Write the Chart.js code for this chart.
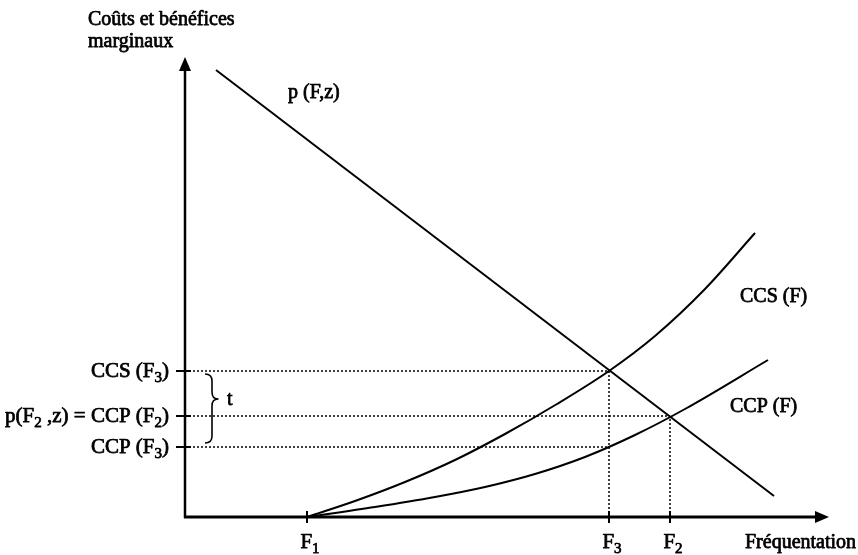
<!DOCTYPE html>
<html><head><meta charset="utf-8">
<script src="https://cdn.jsdelivr.net/npm/chart.js@4"></script>
<style>html,body{margin:0;padding:0;background:#fff;} canvas{display:block}</style>
</head><body>
<canvas id="c" width="858" height="555"></canvas>
<script>
// ---- data (arbitrary units: x = fréquentation, y = coûts/bénéfices) ----
const xTickValues = [122, 424, 485];
const xTickLabels = ['F_1', 'F_3', 'F_2'];
const yTickValues = [146, 101, 70];
const yTickLabels = ['CCS (F_3)', 'p(F_2 ,z) = CCP (F_2)', 'CCP (F_3)'];
const demandX = [31, 589];
const demandY = [447, 21];
const ccsX = [122, 170, 220, 270, 320, 372, 424, 470, 520, 570];
const ccsY = [0, 16, 35, 57, 83, 113, 146, 181, 228, 284];
const ccpX = [122, 190, 250, 300, 350, 400, 450, 500, 583];
const ccpY = [0, 10, 20, 30, 43, 60, 82, 108, 157];
const curveLabels = ['p (F,z)', 'CCS (F)', 'CCP (F)'];
const axisTitleY = ['Coûts et bénéfices', 'marginaux'];
const axisTitleX = 'Fréquentation';
const braceLabel = 't';

const zip = (xs, ys) => xs.map((x, i) => ({x, y: ys[i]}));
const F1 = xTickValues[0], F3 = xTickValues[1], F2 = xTickValues[2];
const ccsF3 = yTickValues[0], pF2 = yTickValues[1], ccpF3 = yTickValues[2];

const solid = {borderColor: '#000', borderWidth: 2, pointRadius: 0, fill: false};
const dotted = {borderColor: '#000', borderWidth: 1.5, borderDash: [2, 2], pointRadius: 0, fill: false};

const datasets = [
  {...dotted, data: [{x: 0, y: ccsF3}, {x: F3, y: ccsF3}]},
  {...dotted, data: [{x: 0, y: pF2}, {x: F2, y: pF2}]},
  {...dotted, data: [{x: 0, y: ccpF3}, {x: F3, y: ccpF3}]},
  {...dotted, data: [{x: F3, y: 0}, {x: F3, y: ccsF3}]},
  {...dotted, data: [{x: F2, y: 0}, {x: F2, y: pF2}]},
  {...solid, data: zip(demandX, demandY)},
  {...solid, data: zip(ccsX, ccsY), cubicInterpolationMode: 'monotone'},
  {...solid, data: zip(ccpX, ccpY), cubicInterpolationMode: 'monotone'}
];

const FONT = '"Liberation Serif", "Times New Roman", serif';
function richParts(s) {
  const parts = []; let buf = '';
  for (let i = 0; i < s.length; i++) {
    if (s[i] === '_') { if (buf) { parts.push({t: buf, sub: false}); buf = ''; } parts.push({t: s[i + 1], sub: true}); i++; }
    else buf += s[i];
  }
  if (buf) parts.push({t: buf, sub: false});
  return parts;
}
function drawRich(ctx, s, x, y, align, size) {
  size = size || 20;
  const parts = richParts(s);
  const fm = size + 'px ' + FONT, fs = Math.round(size * 0.72) + 'px ' + FONT;
  let w = 0;
  parts.forEach(p => { ctx.font = p.sub ? fs : fm; p.w = ctx.measureText(p.t).width; w += p.w; });
  let cx = align === 'right' ? x - w : align === 'center' ? x - w / 2 : x;
  ctx.textAlign = 'left'; ctx.textBaseline = 'alphabetic';
  ctx.lineWidth = 0.75; ctx.lineJoin = 'round';
  parts.forEach(p => {
    ctx.font = p.sub ? fs : fm;
    const yy = p.sub ? y + 5 : y;
    ctx.fillText(p.t, cx, yy);
    ctx.strokeText(p.t, cx, yy);
    cx += p.w;
  });
}

const decor = {
  id: 'decor',
  afterDatasetsDraw(chart) {
    const ctx = chart.ctx, xs = chart.scales.x, ys = chart.scales.y;
    const ox = xs.getPixelForValue(0), oy = ys.getPixelForValue(0);
    const xEnd = chart.chartArea.right, yEnd = chart.chartArea.top;
    ctx.save();
    ctx.fillStyle = '#000'; ctx.strokeStyle = '#000';
    // axes
    ctx.lineWidth = 2.5;
    ctx.beginPath(); ctx.moveTo(ox, oy + 1); ctx.lineTo(ox, yEnd + 10); ctx.stroke();
    ctx.lineWidth = 3;
    ctx.beginPath(); ctx.moveTo(ox - 1, oy); ctx.lineTo(xEnd - 10, oy); ctx.stroke();
    // arrowheads
    ctx.beginPath(); ctx.moveTo(ox, yEnd); ctx.lineTo(ox - 6, yEnd + 14); ctx.lineTo(ox + 6, yEnd + 14); ctx.closePath(); ctx.fill();
    ctx.beginPath(); ctx.moveTo(xEnd, oy); ctx.lineTo(xEnd - 14, oy - 6); ctx.lineTo(xEnd - 14, oy + 6); ctx.closePath(); ctx.fill();
    // ticks
    ctx.lineWidth = 2;
    yTickValues.forEach(v => { const py = ys.getPixelForValue(v); ctx.beginPath(); ctx.moveTo(ox - 9, py); ctx.lineTo(ox + 6, py); ctx.stroke(); });
    xTickValues.forEach(v => { const px = xs.getPixelForValue(v); ctx.beginPath(); ctx.moveTo(px, oy - 6); ctx.lineTo(px, oy + 6); ctx.stroke(); });
    // tick labels
    yTickValues.forEach((v, i) => drawRich(ctx, yTickLabels[i], ox - 16, ys.getPixelForValue(v) + 6, 'right', 21));
    xTickValues.forEach((v, i) => drawRich(ctx, xTickLabels[i], xs.getPixelForValue(v) + 3, oy + 31, 'center', 21));
    // axis titles
    drawRich(ctx, axisTitleY[0], ox - 97, 25, 'left');
    drawRich(ctx, axisTitleY[1], ox - 97, 47, 'left');
    drawRich(ctx, axisTitleX, xEnd - 84, oy + 31, 'left');
    // curve labels
    drawRich(ctx, curveLabels[0], xs.getPixelForValue(103), ys.getPixelForValue(419), 'left');
    drawRich(ctx, curveLabels[1], xs.getPixelForValue(555), ys.getPixelForValue(215), 'left');
    drawRich(ctx, curveLabels[2], xs.getPixelForValue(545), ys.getPixelForValue(105), 'left');
    // brace
    const yTop = ys.getPixelForValue(ccsF3) + 3, yBot = ys.getPixelForValue(ccpF3) - 4;
    const yMid = yTop + 25;
    const xL = ox + 20, xM = ox + 27, xT = ox + 33;
    ctx.lineWidth = 1.6;
    ctx.beginPath();
    ctx.moveTo(xL, yTop);
    ctx.quadraticCurveTo(xM, yTop, xM, yTop + 7);
    ctx.lineTo(xM, yMid - 7);
    ctx.quadraticCurveTo(xM, yMid, xT, yMid);
    ctx.quadraticCurveTo(xM, yMid, xM, yMid + 7);
    ctx.lineTo(xM, yBot - 7);
    ctx.quadraticCurveTo(xM, yBot, xL, yBot);
    ctx.stroke();
    drawRich(ctx, braceLabel, xT + 9, yMid + 6, 'left');
    ctx.restore();
  }
};

new Chart(document.getElementById('c'), {
  type: 'line',
  data: {datasets},
  options: {
    responsive: false, animation: false, devicePixelRatio: 1,
    layout: {padding: {left: 185, right: 29, top: 57, bottom: 38}},
    scales: {
      x: {type: 'linear', min: 0, max: 644, display: false},
      y: {type: 'linear', min: 0, max: 460, display: false}
    },
    plugins: {legend: {display: false}, tooltip: {enabled: false}},
    elements: {point: {radius: 0}, line: {tension: 0}}
  },
  plugins: [decor]
});
</script>
</body></html>
